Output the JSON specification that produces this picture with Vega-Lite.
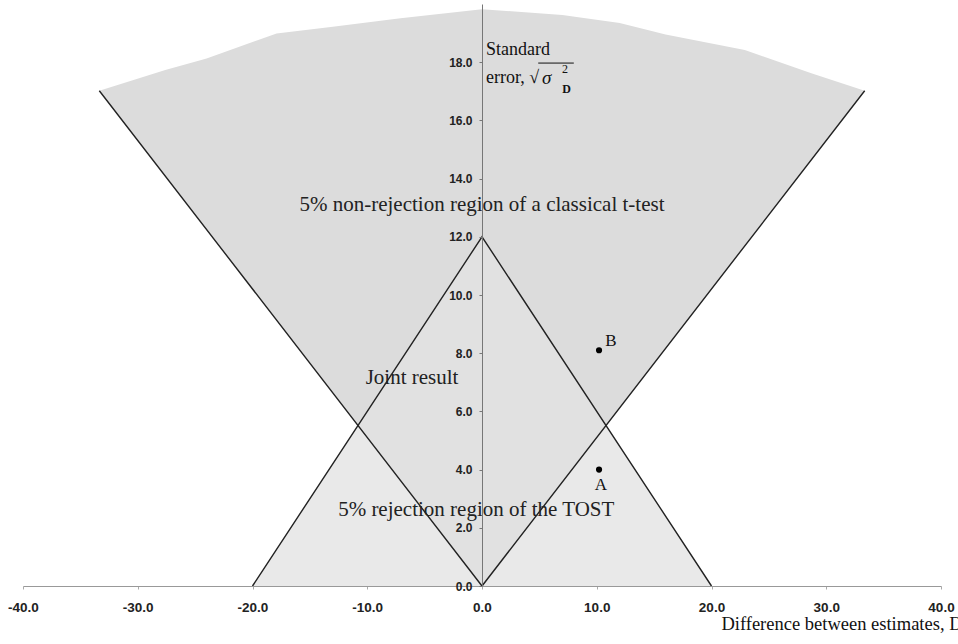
{
  "$schema": "https://vega.github.io/schema/vega-lite/v6.json",
  "width": 918,
  "height": 582,
  "autosize": {"type": "none"},
  "padding": {"left": 23, "top": 4, "right": 17, "bottom": 58},
  "background": "white",
  "config": {"view": {"stroke": null}},
  "datasets": {
    "ttest": [
      {"x": -33.35, "y": 17.02, "bot": 17.02},
      {"x": -27.6, "y": 17.73, "bot": 14.08},
      {"x": -24.0, "y": 18.13, "bot": 12.24},
      {"x": -17.9, "y": 18.99, "bot": 9.13},
      {"x": -13.0, "y": 19.22, "bot": 6.63},
      {"x": -7.1, "y": 19.51, "bot": 3.62},
      {"x": 0, "y": 19.82, "bot": 0},
      {"x": 7.0, "y": 19.62, "bot": 3.57},
      {"x": 12.0, "y": 19.35, "bot": 6.12},
      {"x": 16.0, "y": 18.95, "bot": 8.16},
      {"x": 22.9, "y": 18.42, "bot": 11.68},
      {"x": 28.7, "y": 17.62, "bot": 14.64},
      {"x": 33.35, "y": 17.02, "bot": 17.02}
    ],
    "tost": [
      {"x": -20, "y": 0, "bot": 0},
      {"x": 0, "y": 12, "bot": 0},
      {"x": 20, "y": 0, "bot": 0}
    ],
    "joint": [
      {"x": -10.81, "y": 5.51, "bot": 5.51},
      {"x": 0, "y": 12, "bot": 0},
      {"x": 10.81, "y": 5.51, "bot": 5.51}
    ],
    "edges": [
      {"seg": "t", "o": 1, "x": -33.35, "y": 17.02},
      {"seg": "t", "o": 2, "x": 0, "y": 0},
      {"seg": "t", "o": 3, "x": 33.35, "y": 17.02},
      {"seg": "tost", "o": 1, "x": -20, "y": 0},
      {"seg": "tost", "o": 2, "x": 0, "y": 12},
      {"seg": "tost", "o": 3, "x": 20, "y": 0}
    ],
    "points": [
      {"x": 10.2, "y": 4.0, "name": "A"},
      {"x": 10.2, "y": 8.1, "name": "B"}
    ],
    "regions": [
      {"x": 0, "y": 13.1, "label": "5% non-rejection region of a classical t-test"},
      {"x": -6.1, "y": 7.15, "label": "Joint result"},
      {"x": -0.5, "y": 2.6, "label": "5% rejection region of the TOST"}
    ],
    "pointlabels": [
      {"x": 10.37, "y": 3.47, "label": "A"},
      {"x": 11.24, "y": 8.42, "label": "B"}
    ],
    "ytitle": [
      {"x": 0.35, "y": 18.42, "label": "Standard"},
      {"x": 0.35, "y": 17.46, "label": "error, √"}
    ],
    "sigma": [{"x": 5.23, "y": 17.46, "label": "σ"}],
    "sup": [{"x": 6.97, "y": 17.75, "label": "2"}],
    "sub": [{"x": 7.0, "y": 17.08, "label": "D"}],
    "overline": [{"x": 4.9, "x2": 8.0, "y": 17.97}]
  },
  "encoding": {
    "x": {
      "field": "x",
      "type": "quantitative",
      "scale": {"domain": [-40, 40], "nice": false, "zero": false},
      "axis": {
        "values": [-40, -30, -20, -10, 0, 10, 20, 30, 40],
        "labelExpr": "replace(format(datum.value, '.1f'), '−', '-')",
        "grid": false,
        "domainColor": "#999",
        "tickColor": "#aaa",
        "tickSize": 3,
        "labelPadding": 11,
        "labelFont": "Liberation Sans",
        "labelFontSize": 13.5,
        "labelFontWeight": "bold",
        "labelColor": "#222",
        "labelFlush": false,
        "title": "Difference between estimates, D",
        "titleFont": "Liberation Serif",
        "titleFontSize": 18.5,
        "titleFontWeight": "normal",
        "titleColor": "#111",
        "titleX": 939,
        "titleY": 43,
        "titleAlign": "right",
        "titleBaseline": "alphabetic",
        "zindex": 1
      }
    },
    "y": {
      "field": "y",
      "type": "quantitative",
      "scale": {"domain": [0, 20], "nice": false},
      "axis": {
        "values": [0, 2, 4, 6, 8, 10, 12, 14, 16, 18],
        "format": ".1f",
        "offset": -459,
        "grid": false,
        "domainColor": "#777",
        "tickColor": "#777",
        "tickSize": 3,
        "labelPadding": 7,
        "labelFont": "Liberation Sans",
        "labelFontSize": 12,
        "labelFontWeight": "bold",
        "labelColor": "#222",
        "labelFlush": false,
        "title": null,
        "zindex": 1
      }
    }
  },
  "layer": [
    {
      "data": {"name": "ttest"},
      "mark": {"type": "area", "color": "#dcdcdc"},
      "encoding": {"y2": {"field": "bot"}}
    },
    {
      "data": {"name": "tost"},
      "mark": {"type": "area", "color": "#e9e9e9"},
      "encoding": {"y2": {"field": "bot"}}
    },
    {
      "data": {"name": "joint"},
      "mark": {"type": "area", "color": "#e1e1e1"},
      "encoding": {"y2": {"field": "bot"}}
    },
    {
      "data": {"name": "edges"},
      "mark": {"type": "line", "color": "#222", "strokeWidth": 1.4},
      "encoding": {
        "detail": {"field": "seg"},
        "order": {"field": "o", "type": "quantitative"}
      }
    },
    {
      "data": {"name": "points"},
      "mark": {"type": "circle", "color": "#000", "size": 38, "opacity": 1}
    },
    {
      "data": {"name": "regions"},
      "mark": {"type": "text", "font": "Liberation Serif", "fontSize": 21, "color": "#222", "align": "center", "baseline": "middle"},
      "encoding": {"text": {"field": "label"}}
    },
    {
      "data": {"name": "pointlabels"},
      "mark": {"type": "text", "font": "Liberation Serif", "fontSize": 17, "color": "#111", "align": "center", "baseline": "middle"},
      "encoding": {"text": {"field": "label"}}
    },
    {
      "data": {"name": "ytitle"},
      "mark": {"type": "text", "font": "Liberation Serif", "fontSize": 18, "color": "#111", "align": "left", "baseline": "middle"},
      "encoding": {"text": {"field": "label"}}
    },
    {
      "data": {"name": "sigma"},
      "mark": {"type": "text", "font": "Liberation Serif", "fontSize": 19, "fontStyle": "italic", "color": "#111", "align": "left", "baseline": "middle"},
      "encoding": {"text": {"field": "label"}}
    },
    {
      "data": {"name": "sup"},
      "mark": {"type": "text", "font": "Liberation Serif", "fontSize": 12, "color": "#111", "align": "left", "baseline": "middle"},
      "encoding": {"text": {"field": "label"}}
    },
    {
      "data": {"name": "sub"},
      "mark": {"type": "text", "font": "Liberation Serif", "fontSize": 12, "fontWeight": "bold", "color": "#111", "align": "left", "baseline": "middle"},
      "encoding": {"text": {"field": "label"}}
    },
    {
      "data": {"name": "overline"},
      "mark": {"type": "rule", "color": "#111", "strokeWidth": 1},
      "encoding": {"x2": {"field": "x2"}}
    }
  ]
}
